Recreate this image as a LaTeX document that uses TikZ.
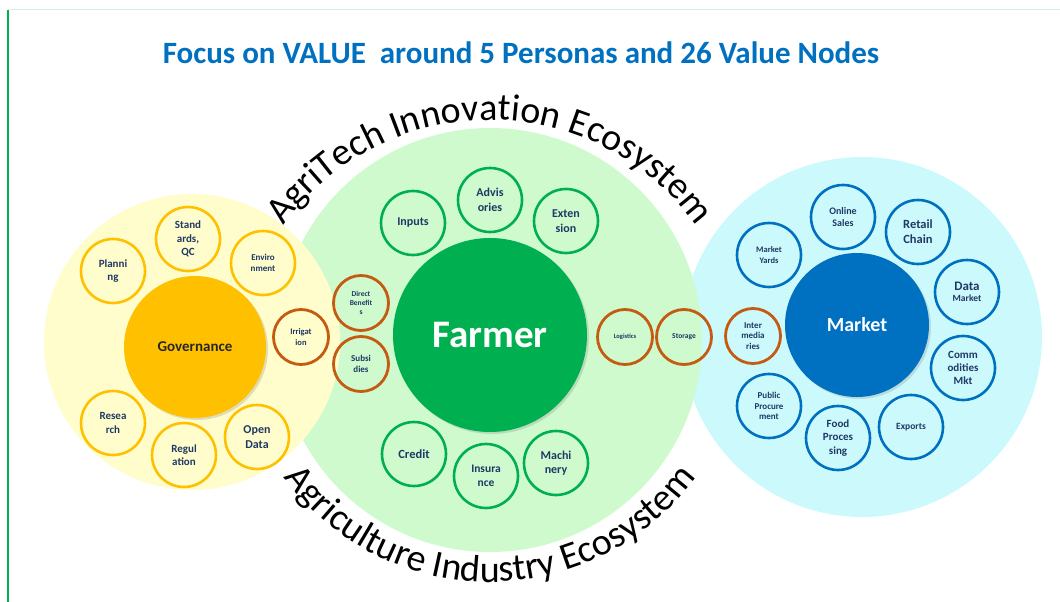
\documentclass[tikz,border=0pt]{standalone}
\usepackage{fontspec}
\setmainfont{Carlito}
\usetikzlibrary{decorations.text, shadows}

\definecolor{titleblue}{RGB}{0,112,192}
\definecolor{framegreen}{RGB}{0,176,80}
\definecolor{framemint}{RGB}{214,242,232}
\definecolor{yellowbg}{RGB}{255,253,204}
\definecolor{greenbg}{RGB}{206,250,206}
\definecolor{cyanbg}{RGB}{204,250,252}
\definecolor{govgold}{RGB}{255,192,0}
\definecolor{farmgreen}{RGB}{0,176,80}
\definecolor{mktblue}{RGB}{0,112,192}
\definecolor{linkbrown}{RGB}{197,90,17}
\definecolor{navytext}{RGB}{31,56,100}

\newcommand{\arcfont}{\fontsize{38}{40}\selectfont}

\begin{document}
\begin{tikzpicture}[x=1pt, y=1pt,
  val/.style={circle, draw, line width=2.6pt, minimum size=64pt, inner sep=0pt,
    align=center, text=navytext},
  fs/.style={font=\bfseries\pgfmathsetmacro\fsskip{#1*1.2}\fontsize{#1}{\fsskip}\selectfont},
  govval/.style={val, draw=govgold},
  farmval/.style={val, draw=farmgreen},
  mktval/.style={val, draw=mktblue},
  linkval/.style={val, draw=linkbrown, minimum size=55pt, line width=2.8pt},
  persona/.style={circle, inner sep=0pt, font=\bfseries,
    drop shadow={opacity=0.25, shadow xshift=2pt, shadow yshift=-2pt}}]

\useasboundingbox (0,0) rectangle (1060,-602);

% frame
\draw[framemint, line width=1pt] (8,-10) -- (1060,-10);
\draw[framegreen, line width=2pt] (8,-10) -- (8,-602);

\node[font=\bfseries\fontsize{31}{36}\selectfont, text=titleblue] (title) at (521,-53)
  {Focus on VALUE\ \ around 5 Personas and 26 Value Nodes};

% ecosystems
\fill[cyanbg] (862,-337) circle (180);
\fill[greenbg] (490,-340) circle (212);
\fill[yellowbg] (192,-342) circle (148);

\path[decorate, decoration={text along path, text align=center,
  text={|\arcfont|AgriTech Innovation Ecosystem}}]
  (490,-375) ++(150:255) arc[start angle=150, end angle=30, radius=255];
\path[decorate, decoration={text along path, text align=center,
  text={|\arcfont|Agriculture Industry Ecosystem}}]
  (490,-327) ++(210:255) arc[start angle=210, end angle=330, radius=255];

% personas
\node[persona, fill=govgold, minimum size=142pt, text=black!85,
  font=\bfseries\fontsize{15}{18}\selectfont] (gov) at (195,-347) {Governance};
\node[persona, fill=farmgreen, minimum size=194pt, text=white,
  font=\bfseries\fontsize{39}{42}\selectfont] (farmer) at (490,-335) {Farmer};
\node[persona, fill=mktblue, minimum size=144pt, text=white,
  font=\bfseries\fontsize{20}{24}\selectfont] (market) at (857,-325) {Market};

% value nodes
\foreach \n/\x/\y/\s/\t in {stand/188/-239/11/{Stand\\ards,\\QC},
    plan/113/-271/11/{Planni\\ng}, env/263/-263/9/{Enviro\\nment},
    res/113/-423/11/{Resea\\rch}, reg/184/-455/11/{Regul\\ation},
    open/257/-437/12/{Open\\Data}}
  \node[govval, fs=\s] (gov-\n) at (\x,\y) {\t};

\foreach \n/\x/\y/\s/\t in {inputs/413/-223/12/{Inputs},
    adv/490/-200/12/{Advis\\ories}, ext/566/-221/12/{Exten\\sion},
    credit/414/-454/12.5/{Credit}, ins/486/-476/11.5/{Insura\\nce},
    mach/556/-463/12/{Machi\\nery}}
  \node[farmval, fs=\s] (farm-\n) at (\x,\y) {\t};

\foreach \n/\x/\y/\s/\t in {yards/769/-255/8.5/{Market\\Yards},
    online/843/-217/10/{Online\\Sales}, retail/918/-232/12.5/{Retail\\Chain},
    comm/963/-368/11/{Comm\\odities\\Mkt}, exp/911/-427/9.5/{Exports},
    food/838/-438/11/{Food\\Proces\\sing}, pub/769/-406/9/{Public\\Procure\\ment}}
  \node[mktval, fs=\s] (mkt-\n) at (\x,\y) {\t};
\node[mktval, fs=9.5] (mkt-data) at (967,-292) {{\fontsize{13}{15}\selectfont Data}\\Market};

\foreach \n/\x/\y/\s/\t in {irr/301/-337/8.5/{Irrigat\\ion},
    dbt/361/-303/7.5/{Direct\\Benefit\\s}, sub/361/-364/9/{Subsi\\dies},
    log/625/-337/6.5/{Logistics}, stor/684/-337/7.5/{Storage},
    inter/753/-336/9/{Inter\\media\\ries}}
  \node[linkval, fs=\s] (link-\n) at (\x,\y) {\t};

\end{tikzpicture}
\end{document}
